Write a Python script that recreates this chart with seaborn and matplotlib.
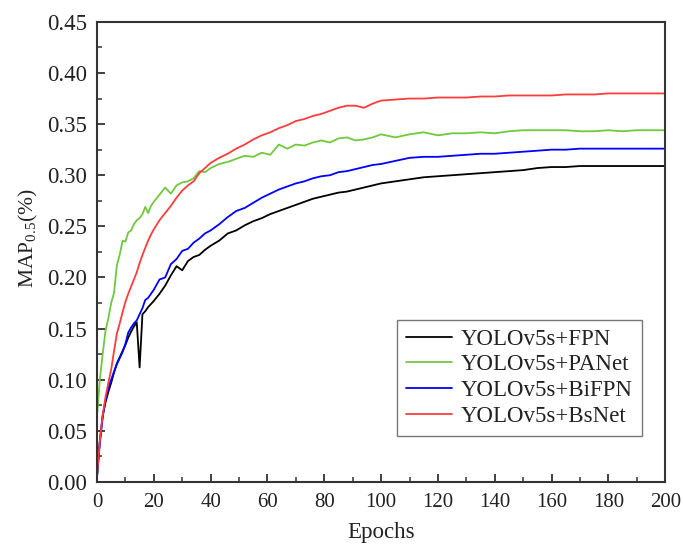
import matplotlib
matplotlib.use("Agg")
import matplotlib.pyplot as plt
import seaborn as sns
import pandas as pd
from matplotlib.ticker import MultipleLocator, FormatStrFormatter

epochs = [0, 1, 2, 3, 4, 5, 6, 7, 8, 9, 10, 11, 12, 13, 14, 15, 16, 17, 18, 19, 20,
          22, 24, 26, 28, 30, 32, 34, 36, 38, 40,
          43, 46, 49, 52, 55, 58, 61, 64, 67, 70, 73, 76, 79, 82, 85, 88, 91, 94, 97, 100,
          105, 110, 115, 120, 125, 130, 135, 140, 145, 150, 155, 160, 165, 170, 175, 180,
          185, 190, 195, 200]

fpn = [0.005, 0.040, 0.065, 0.078, 0.088, 0.097, 0.107, 0.116, 0.122, 0.128, 0.134,
       0.141, 0.147, 0.152, 0.156, 0.112, 0.164, 0.167, 0.171, 0.174, 0.177,
       0.184, 0.192, 0.202, 0.211, 0.207, 0.216, 0.220, 0.222, 0.227, 0.231,
       0.236, 0.243, 0.246, 0.251, 0.255, 0.258, 0.262, 0.265, 0.268, 0.271, 0.274,
       0.277, 0.279, 0.281, 0.283, 0.284, 0.286, 0.288, 0.290, 0.292,
       0.294, 0.296, 0.298, 0.299, 0.300, 0.301, 0.302, 0.303, 0.304, 0.305, 0.307,
       0.308, 0.308, 0.309, 0.309, 0.309, 0.309, 0.309, 0.309, 0.309]

panet = [0.064, 0.100, 0.125, 0.148, 0.160, 0.175, 0.185, 0.212, 0.222, 0.236, 0.235,
         0.244, 0.246, 0.252, 0.256, 0.258, 0.262, 0.269, 0.263, 0.270, 0.274,
         0.281, 0.288, 0.282, 0.290, 0.293, 0.294, 0.297, 0.304, 0.303, 0.307,
         0.311, 0.313, 0.316, 0.319, 0.318, 0.322, 0.320, 0.330, 0.326, 0.330, 0.329,
         0.332, 0.334, 0.332, 0.336, 0.337, 0.334, 0.335, 0.337, 0.340,
         0.337, 0.340, 0.342, 0.339, 0.341, 0.341, 0.342, 0.341, 0.343, 0.344, 0.344,
         0.344, 0.344, 0.343, 0.343, 0.344, 0.343, 0.344, 0.344, 0.344]

bifpn = [0.005, 0.038, 0.063, 0.080, 0.092, 0.100, 0.108, 0.115, 0.121, 0.127, 0.135,
         0.146, 0.151, 0.155, 0.158, 0.164, 0.170, 0.178, 0.180, 0.184, 0.188,
         0.198, 0.200, 0.213, 0.218, 0.226, 0.228, 0.234, 0.238, 0.243, 0.246,
         0.252, 0.259, 0.265, 0.268, 0.273, 0.278, 0.282, 0.286, 0.289, 0.292, 0.294,
         0.297, 0.299, 0.300, 0.303, 0.304, 0.306, 0.308, 0.310, 0.311,
         0.314, 0.317, 0.318, 0.318, 0.319, 0.320, 0.321, 0.321, 0.322, 0.323, 0.324,
         0.325, 0.325, 0.326, 0.326, 0.326, 0.326, 0.326, 0.326, 0.326]

bsnet = [0.005, 0.040, 0.065, 0.083, 0.097, 0.110, 0.128, 0.145, 0.155, 0.166, 0.176,
         0.184, 0.191, 0.198, 0.205, 0.214, 0.222, 0.229, 0.236, 0.242, 0.247,
         0.256, 0.263, 0.270, 0.278, 0.285, 0.290, 0.294, 0.302, 0.307, 0.312,
         0.317, 0.321, 0.326, 0.330, 0.335, 0.339, 0.342, 0.346, 0.349, 0.353, 0.355,
         0.358, 0.360, 0.363, 0.366, 0.368, 0.368, 0.366, 0.370, 0.373,
         0.374, 0.375, 0.375, 0.376, 0.376, 0.376, 0.377, 0.377, 0.378, 0.378, 0.378,
         0.378, 0.379, 0.379, 0.379, 0.380, 0.380, 0.380, 0.380, 0.380]

names = ["YOLOv5s+FPN", "YOLOv5s+PANet", "YOLOv5s+BiFPN", "YOLOv5s+BsNet"]
colors = ["#000000", "#70C83C", "#0000FF", "#FF3B3B"]

frames = []
for name, vals in zip(names, [fpn, panet, bifpn, bsnet]):
    frames.append(pd.DataFrame({"epoch": epochs, "map": vals, "model": name}))
df = pd.concat(frames, ignore_index=True)

sns.set_style("ticks")
plt.rcParams["font.family"] = ["Liberation Serif", "DejaVu Serif"]
plt.rcParams["mathtext.fontset"] = "custom"
plt.rcParams["mathtext.rm"] = "Liberation Serif"
plt.rcParams["mathtext.it"] = "Liberation Serif"

fig = plt.figure(figsize=(6.83, 5.47), dpi=100)
ax = fig.add_axes([0.142, 0.119, 0.832, 0.841])

sns.lineplot(data=df, x="epoch", y="map", hue="model", palette=colors,
             linewidth=1.3, ax=ax)

ax.set_xlim(0, 200)
ax.set_ylim(0, 0.45)
ax.xaxis.set_major_locator(MultipleLocator(20))
ax.xaxis.set_minor_locator(MultipleLocator(10))
ax.yaxis.set_major_locator(MultipleLocator(0.05))
ax.yaxis.set_minor_locator(MultipleLocator(0.025))
ax.yaxis.set_major_formatter(FormatStrFormatter("%.2f"))
ax.tick_params(which="major", direction="in", length=6, width=1.3,
               colors="#333333", labelcolor="#222222")
ax.tick_params(which="minor", direction="in", length=3.5, width=1.1, colors="#333333")
ax.tick_params(axis="x", which="major", labelsize=15, pad=8)
ax.tick_params(axis="y", which="major", labelsize=16.5, pad=7)
for s in ax.spines.values():
    s.set_linewidth(1.5)
    s.set_color("#333333")

ax.set_xlabel("Epochs", fontsize=16.5, color="#222222", labelpad=7)
ax.set_ylabel(r"MAP$_{\mathrm{0.5}}$(%)", fontsize=15.5, color="#222222", labelpad=6)
ax.yaxis.set_label_coords(-0.1, 0.53)

leg = ax.legend(loc="lower right", bbox_to_anchor=(0.959, 0.1), borderaxespad=0,
                fontsize=16.5, fancybox=False, frameon=True, edgecolor="#555555",
                handlelength=2.0, handletextpad=0.4, borderpad=0.4, labelspacing=0.2)
leg.get_frame().set_linewidth(1.0)
for t in leg.get_texts():
    t.set_color("#222222")

fig.savefig("out.png", dpi=100)
